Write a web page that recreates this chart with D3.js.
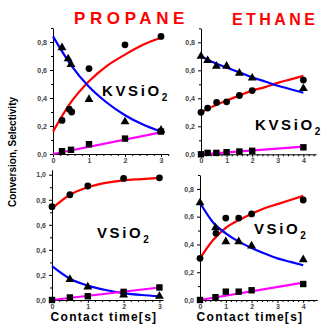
<!DOCTYPE html>
<html>
<head>
<meta charset="utf-8">
<script src="https://cdn.jsdelivr.net/npm/d3@7"></script>
<style>
  html, body { margin: 0; padding: 0; background: #fff; }
  svg { display: block; font-family: "Liberation Sans", Arial, sans-serif; }
</style>
</head>
<body>
<svg id="chart" width="321" height="326"></svg>
<script>
// ---- Propane over KVSiO2 ----
const p1ConvT = [0.25, 0.45, 0.52, 1, 2, 3];
const p1ConvV = [0.24, 0.32, 0.30, 0.61, 0.78, 0.84];
const p1SelT = [0.25, 0.42, 0.5, 1, 2, 3];
const p1SelV = [0.76, 0.68, 0.64, 0.39, 0.23, 0.17];
const p1SqT = [0.25, 0.5, 1, 2, 3];
const p1SqV = [0.02, 0.03, 0.07, 0.11, 0.16];
const p1FitT = [0, 0.5, 1, 1.5, 2, 2.5, 3];
const p1FitConv = [0.16, 0.37, 0.52, 0.63, 0.71, 0.78, 0.83];
const p1FitSel = [0.84, 0.635, 0.48, 0.366, 0.277, 0.21, 0.16];
const p1LinT = [0, 3];
const p1LinV = [0, 0.155];

// ---- Ethane over KVSiO2 ----
const p2ConvT = [0, 0.26, 0.61, 1, 1.5, 2, 4];
const p2ConvV = [0.30, 0.33, 0.37, 0.375, 0.42, 0.455, 0.53];
const p2SelT = [0, 0.26, 0.6, 1, 1.5, 2, 4];
const p2SelV = [0.70, 0.67, 0.63, 0.63, 0.58, 0.545, 0.47];
const p2SqT = [0, 0.26, 0.6, 1, 1.5, 2, 4];
const p2SqV = [0.0, 0.01, 0.01, 0.015, 0.02, 0.025, 0.05];
const p2FitT = [0, 0.5, 1, 1.5, 2, 2.5, 3, 3.5, 4];
const p2FitConv = [0.30, 0.345, 0.385, 0.42, 0.455, 0.48, 0.51, 0.535, 0.56];
const p2FitSel = [0.70, 0.655, 0.62, 0.585, 0.55, 0.52, 0.49, 0.465, 0.44];
const p2LinT = [0, 4];
const p2LinV = [0, 0.055];

// ---- Propane over VSiO2 ----
const p3ConvT = [0, 0.5, 1, 2, 3];
const p3ConvV = [0.745, 0.84, 0.91, 0.97, 0.975];
const p3SelT = [0.5, 1, 2, 3];
const p3SelV = [0.165, 0.105, 0.04, 0.03];
const p3SqT = [0, 0.5, 1, 2, 3];
const p3SqV = [0.0, 0.02, 0.03, 0.065, 0.10];
const p3FitT = [0, 0.5, 1, 1.5, 2, 2.5, 3];
const p3FitConv = [0.73, 0.84, 0.90, 0.935, 0.955, 0.965, 0.975];
const p3FitSel = [0.27, 0.17, 0.115, 0.08, 0.055, 0.04, 0.03];
const p3LinT = [0, 3];
const p3LinV = [0, 0.10];

// ---- Ethane over VSiO2 ----
const p4ConvT = [0, 0.62, 1, 1.5, 2, 4];
const p4ConvV = [0.30, 0.48, 0.59, 0.59, 0.62, 0.72];
const p4SelT = [0, 0.6, 1, 1.5, 2, 4];
const p4SelV = [0.70, 0.52, 0.42, 0.42, 0.39, 0.29];
const p4SqT = [0, 0.6, 1, 1.5, 2, 4];
const p4SqV = [0.0, 0.02, 0.06, 0.06, 0.07, 0.115];
const p4FitT = [0, 0.5, 1, 1.5, 2, 2.5, 3, 3.5, 4];
const p4FitConv = [0.30, 0.43, 0.52, 0.575, 0.62, 0.66, 0.69, 0.72, 0.75];
const p4FitSel = [0.70, 0.56, 0.48, 0.42, 0.375, 0.335, 0.30, 0.275, 0.25];
const p4LinT = [0, 4];
const p4LinV = [0, 0.125];

// tick labels
const xTicks3 = [0, 1, 2, 3];
const xTicks4 = [0, 1, 2, 3, 4];
const yTicks08 = [0, 0.2, 0.4, 0.6, 0.8];
const yTicks10 = [0, 0.2, 0.4, 0.6, 0.8, 1.0];

const titles = ["PROPANE", "ETHANE"];
const catalysts = ["KVSiO", "VSiO"];
const xTitle = "Contact time[s]";
const yTitle = "Conversion, Selectivity";

const svg = d3.select("#chart");
const RED = "#ff0000", BLUE = "#0000ff", MAG = "#ff00ff";
const fmtY = v => d3.format(".1f")(v).replace(".", ",");

const panels = [
  { xd: [0, 3.2], xr: [53, 168.2], yd: [0, 0.9], yr: [154, 28], xt: xTicks3, yt: yTicks08,
    conv: [p1ConvT, p1ConvV], sel: [p1SelT, p1SelV], sq: [p1SqT, p1SqV],
    fitT: p1FitT, fitC: p1FitConv, fitS: p1FitSel, lin: [p1LinT, p1LinV],
    label: catalysts[0], lx: 102, ly: 96 },
  { xd: [0, 4.5], xr: [201, 316.2], yd: [0, 0.9], yr: [154.3, 28.3], xt: xTicks4, yt: yTicks08,
    conv: [p2ConvT, p2ConvV], sel: [p2SelT, p2SelV], sq: [p2SqT, p2SqV],
    fitT: p2FitT, fitC: p2FitConv, fitS: p2FitSel, lin: [p2LinT, p2LinV],
    label: catalysts[0], lx: 255, ly: 130 },
  { xd: [0, 3.1], xr: [52, 163], yd: [0, 1.04], yr: [300, 169.7], xt: xTicks3, yt: yTicks10,
    conv: [p3ConvT, p3ConvV], sel: [p3SelT, p3SelV], sq: [p3SqT, p3SqV],
    fitT: p3FitT, fitC: p3FitConv, fitS: p3FitSel, lin: [p3LinT, p3LinV],
    label: catalysts[1], lx: 97, ly: 238 },
  { xd: [0, 4.55], xr: [200, 317.4], yd: [0, 0.9], yr: [300, 175], xt: xTicks4, yt: yTicks08,
    conv: [p4ConvT, p4ConvV], sel: [p4SelT, p4SelV], sq: [p4SqT, p4SqV],
    fitT: p4FitT, fitC: p4FitConv, fitS: p4FitSel, lin: [p4LinT, p4LinV],
    label: catalysts[1], lx: 254, ly: 234 }
];

const zip = (a, b) => a.map((t, i) => [t, b[i]]);

panels.forEach(p => {
  const x = d3.scaleLinear().domain(p.xd).range(p.xr);
  const y = d3.scaleLinear().domain(p.yd).range(p.yr);
  const g = svg.append("g");

  // x axis with minor ticks
  const minorX = d3.range(0, p.xd[1] + 1e-9, 0.2).filter(v => Math.abs(v - Math.round(v)) > 1e-6);
  const gx = g.append("g").attr("transform", `translate(0,${p.yr[0]})`);
  gx.call(d3.axisBottom(x).tickValues(minorX).tickSize(2).tickFormat(""))
    .call(s => s.select(".domain").remove());
  gx.append("g").call(d3.axisBottom(x).tickValues(p.xt).tickSize(3).tickSizeOuter(0).tickPadding(1).tickFormat(d3.format("d")));

  // y axis with minor ticks
  const minorY = d3.range(0.1, p.yd[1] + 1e-9, 0.2);
  const gy = g.append("g").attr("transform", `translate(${p.xr[0]},0)`);
  gy.call(d3.axisLeft(y).tickValues(minorY).tickSize(2).tickFormat(""))
    .call(s => s.select(".domain").remove());
  gy.append("g").call(d3.axisLeft(y).tickValues(p.yt).tickSize(3).tickSizeOuter(0).tickPadding(3).tickFormat(fmtY));

  g.selectAll(".tick text").attr("font-size", 7).attr("font-weight", "bold")
    .attr("fill", "#444").attr("font-family", "Liberation Sans, Arial, sans-serif");
  g.selectAll(".domain, .tick line").attr("stroke", "#000").attr("stroke-width", 1);

  // fitted curves
  const line = d3.line().x(d => x(d[0])).y(d => y(d[1])).curve(d3.curveMonotoneX);
  g.append("path").datum(zip(p.fitT, p.fitC)).attr("d", line)
    .attr("fill", "none").attr("stroke", RED).attr("stroke-width", 2.2);
  g.append("path").datum(zip(p.fitT, p.fitS)).attr("d", line)
    .attr("fill", "none").attr("stroke", BLUE).attr("stroke-width", 2.2);
  g.append("path").datum(zip(p.lin[0], p.lin[1])).attr("d", d3.line().x(d => x(d[0])).y(d => y(d[1])))
    .attr("fill", "none").attr("stroke", MAG).attr("stroke-width", 2.2);

  // markers
  g.selectAll(".sq").data(zip(p.sq[0], p.sq[1])).join("rect")
    .attr("x", d => x(d[0]) - 3.2).attr("y", d => y(d[1]) - 3.2)
    .attr("width", 6.4).attr("height", 6.4).attr("fill", "#000");
  g.selectAll(".tri").data(zip(p.sel[0], p.sel[1])).join("path")
    .attr("d", d3.symbol(d3.symbolTriangle, 34))
    .attr("transform", d => `translate(${x(d[0])},${y(d[1])})`).attr("fill", "#000");
  g.selectAll(".circ").data(zip(p.conv[0], p.conv[1])).join("circle")
    .attr("cx", d => x(d[0])).attr("cy", d => y(d[1])).attr("r", 3.4).attr("fill", "#000");

  // catalyst label
  const t = g.append("text").attr("x", p.lx).attr("y", p.ly)
    .attr("font-size", 15).attr("font-weight", "bold").attr("letter-spacing", 2.6).attr("fill", "#000");
  t.append("tspan").text(p.label);
  t.append("tspan").attr("dy", 5).attr("font-size", 10).attr("letter-spacing", 0).text("2");
});

// column titles
svg.append("text").attr("x", 74).attr("y", 24)
  .attr("font-size", 17).attr("font-weight", "bold").attr("letter-spacing", 4.6)
  .attr("fill", RED).text(titles[0]);
const eth = svg.append("text").attr("x", 232).attr("y", 25)
  .attr("font-size", 16).attr("font-weight", "bold").attr("fill", RED);
eth.selectAll("tspan").data(titles[1].split("")).join("tspan")
  .attr("dx", (d, i) => i ? 3.4 : 0).text(d => d);

// axis titles
[[104, 321], [250, 321]].forEach(([cx, cy]) => {
  svg.append("text").attr("x", cx).attr("y", cy).attr("text-anchor", "middle")
    .attr("font-size", 12).attr("font-weight", "bold").attr("letter-spacing", 1.3)
    .attr("fill", "#000").text(xTitle);
});
svg.append("text").attr("transform", "translate(16,152) rotate(-90)")
  .attr("text-anchor", "middle").attr("font-size", 10).attr("font-weight", "bold")
  .attr("fill", "#000").text(yTitle);
</script>
</body>
</html>
